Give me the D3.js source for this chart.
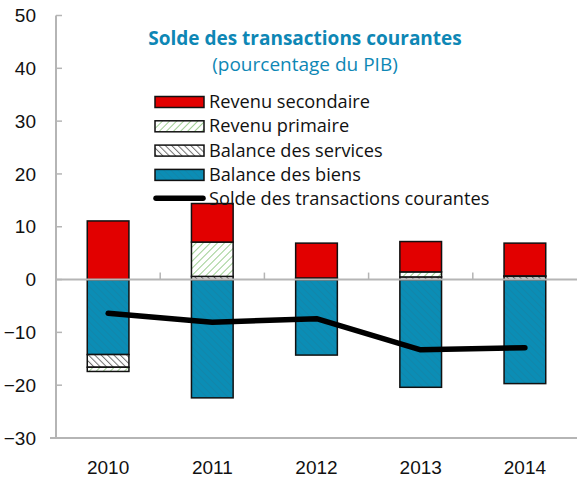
<!DOCTYPE html>
<html><head><meta charset="utf-8">
<script src="https://cdn.jsdelivr.net/npm/d3@7/dist/d3.min.js"></script>
<style>
html,body{margin:0;padding:0;background:#fff;}
svg{display:block;font-family:"Open Sans","Noto Sans",sans-serif;}
</style></head>
<body>
<svg id="chart" width="577" height="478"></svg>
<script>
const years = ["2010","2011","2012","2013","2014"];
const balanceBiens = [-14.2, -22.4, -14.3, -20.4, -19.7];
const balanceServices = [-2.4, 0.6, 0.3, 0.5, 0.6];
const revenuPrimaire = [-0.8, 6.5, 0.0, 0.95, 0.1];
const revenuSecondaire = [11.1, 7.3, 6.6, 5.75, 6.2];
const soldeCourant = [-6.4, -8.1, -7.4, -13.3, -12.9];
const yTicks = [-30, -20, -10, 0, 10, 20, 30, 40, 50];
const seriesNames = ["Balance des biens","Balance des services","Revenu primaire","Revenu secondaire"];
const legendNames = ["Revenu secondaire","Revenu primaire","Balance des services","Balance des biens","Solde des transactions courantes"];
const titleText = "Solde des transactions courantes";
const subtitleText = "(pourcentage du PIB)";

const svg = d3.select("#chart");
const x = d3.scaleBand().domain(years).range([56, 577]).paddingInner(0.6).paddingOuter(0.3);
const xb = d3.scaleBand().domain(years).range([56, 577]);
const y = d3.scaleLinear().domain([-30, 50]).range([438, 15.5]);

const defs = svg.append("defs");
function stripes(id, bg, fg, sw, size, angle, op){
  const p = defs.append("pattern").attr("id", id).attr("patternUnits","userSpaceOnUse")
    .attr("width", size).attr("height", size).attr("patternTransform", `rotate(${angle})`);
  p.append("rect").attr("width", size).attr("height", size).attr("fill", bg);
  p.append("line").attr("x1",0).attr("y1",0).attr("x2",0).attr("y2",size)
    .attr("stroke", fg).attr("stroke-width", sw).attr("stroke-opacity", op);
}
stripes("pBiens", "#0b8db5", "#1a7fa0", 2, 5, -45, 0.5);
stripes("pServ", "#ffffff", "#707070", 2, 4.5, -45, 1);
stripes("pPrim", "#ffffff", "#9fcf93", 2, 5, 45, 1);
const fills = {
  "Balance des biens":"url(#pBiens)",
  "Balance des services":"url(#pServ)",
  "Revenu primaire":"url(#pPrim)",
  "Revenu secondaire":"#e20000"
};

const rows = years.map((yr,i)=>({year:yr,
  "Balance des biens":balanceBiens[i],
  "Balance des services":balanceServices[i],
  "Revenu primaire":revenuPrimaire[i],
  "Revenu secondaire":revenuSecondaire[i]}));
const stacked = d3.stack().keys(seriesNames).offset(d3.stackOffsetDiverging)(rows);

const axisColor = "#b5b5b5";
const yAxis = d3.axisLeft(y).tickValues(yTicks).tickSize(0).tickPadding(20);
const gy = svg.append("g").attr("transform","translate(56,0)").call(yAxis);
gy.select(".domain").remove();
gy.selectAll("text").attr("font-size",19).attr("fill","#111").attr("x",-20);
svg.append("g").selectAll("line").data(yTicks).join("line")
  .attr("x1",56).attr("x2",62).attr("y1",d=>y(d)).attr("y2",d=>y(d))
  .attr("stroke",axisColor).attr("stroke-width",1.5);
svg.append("line").attr("x1",56).attr("x2",56).attr("y1",y(50)).attr("y2",y(-30))
  .attr("stroke",axisColor).attr("stroke-width",2);
svg.append("line").attr("x1",50).attr("x2",577).attr("y1",y(-30)).attr("y2",y(-30))
  .attr("stroke",axisColor).attr("stroke-width",2);

const xAxis = d3.axisBottom(xb).tickSize(0).tickPadding(0);
const gx = svg.append("g").attr("transform",`translate(0,${y(-30)})`).call(xAxis);
gx.select(".domain").remove();
gx.selectAll("text").attr("font-size",19).attr("fill","#111").attr("dy",0).attr("y",36);

svg.append("g").selectAll("g").data(stacked).join("g")
  .attr("fill", d=>fills[d.key])
  .selectAll("rect").data(d=>d).join("rect")
  .attr("x", d=>x(d.data.year))
  .attr("width", x.bandwidth())
  .attr("y", d=>y(Math.max(d[0],d[1])))
  .attr("height", d=>Math.abs(y(d[0])-y(d[1])))
  .attr("stroke","#111").attr("stroke-width",1.5)
  .attr("visibility", d=>Math.abs(d[1]-d[0])<0.01?"hidden":"visible");

svg.append("line").attr("x1",56).attr("x2",577).attr("y1",y(0)).attr("y2",y(0))
  .attr("stroke",axisColor).attr("stroke-width",2);
svg.append("g").selectAll("line").data(years.slice(1)).join("line")
  .attr("x1",d=>xb(d)).attr("x2",d=>xb(d)).attr("y1",y(0)).attr("y2",y(0)-7)
  .attr("stroke",axisColor).attr("stroke-width",1.5);

const line = d3.line().x((d,i)=>xb(years[i])+xb.bandwidth()/2).y(d=>y(d));
svg.append("path").datum(soldeCourant).attr("d", line)
  .attr("fill","none").attr("stroke","#000").attr("stroke-width",5.5)
  .attr("stroke-linecap","round").attr("stroke-linejoin","round");

svg.append("text").attr("x",305).attr("y",45).attr("text-anchor","middle")
  .attr("font-size",19).attr("font-weight","bold").attr("fill","#0e87b5").text(titleText);
svg.append("text").attr("x",305).attr("y",71).attr("text-anchor","middle")
  .attr("font-size",19).attr("fill","#0e87b5").text(subtitleText);

const lg = svg.append("g");
const legFill = {"Revenu secondaire":"#e20000","Revenu primaire":"url(#pPrim)","Balance des services":"url(#pServ)","Balance des biens":"url(#pBiens)"};
legendNames.forEach((n,i)=>{
  const cy = 102 + i*24.3;
  if(i<4){
    lg.append("rect").attr("x",155).attr("y",cy-5.5).attr("width",49).attr("height",11)
      .attr("fill",legFill[n]).attr("stroke","#111").attr("stroke-width",1.5);
  } else {
    lg.append("line").attr("x1",156).attr("x2",203).attr("y1",cy-1).attr("y2",cy-1)
      .attr("stroke","#000").attr("stroke-width",5.5).attr("stroke-linecap","round");
  }
  lg.append("text").attr("x",209).attr("y",cy+6).attr("font-size",18.2).attr("fill","#111").text(n);
});
</script>
</body></html>
